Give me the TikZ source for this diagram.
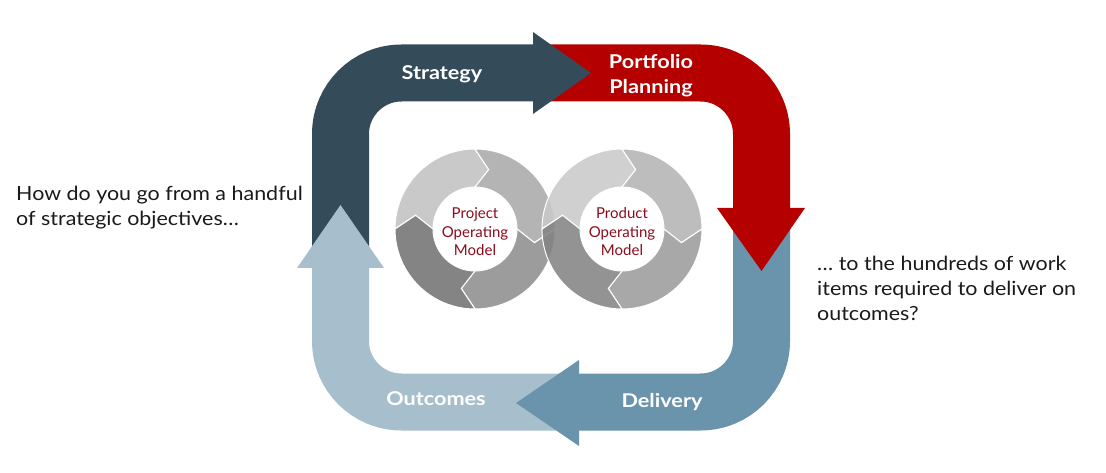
\documentclass[tikz,border=0pt]{standalone}
\usepackage{fontspec}
\setmainfont{Lato}
\newfontfamily\sidefont[FakeStretch=1.1]{Lato}
\newfontfamily\lblfont[FakeStretch=1.14]{Lato}
\definecolor{cStrat}{HTML}{344B5A}
\definecolor{cPort}{HTML}{B50000}
\definecolor{cDeliv}{HTML}{6A94AB}
\definecolor{cOutc}{HTML}{A7BFCD}
\definecolor{cSegA}{HTML}{C9C9C9}
\definecolor{cSegB}{HTML}{B4B4B4}
\definecolor{cSegC}{HTML}{9C9C9C}
\definecolor{cSegD}{HTML}{848484}
\definecolor{cModel}{HTML}{8A0C1C}
\definecolor{cText}{HTML}{1A1A1A}
\newcommand\cycseg[2]{%
  \fill[#2, draw=white, line width=1pt]
    (#1:80) arc[start angle=#1, end angle=#1-90, radius=80]
    -- (#1-103:61) -- (#1-90:42)
    arc[start angle=#1-90, end angle=#1, radius=42]
    -- (#1-13:61) -- cycle;}
\begin{document}
\begin{tikzpicture}[x=1pt,y=-1pt,
  band/.style={line width=57pt, rounded corners=61pt},
  lbl/.style={text=white, font=\lblfont\fontsize{19}{25}\selectfont\bfseries, inner sep=0pt, align=center},
  side/.style={text=cText, font=\sidefont\fontsize{19.5}{25}\selectfont, inner sep=0pt, align=left, anchor=north west},
  model/.style={text=cModel, font=\fontsize{15}{18.5}\selectfont, inner sep=0pt, align=center}]
\useasboundingbox (0,0) rectangle (1106,473);
% bands
\draw[band, draw=cOutc] (576,402) -- (340.5,402) -- (340.5,255);
\draw[band, draw=cStrat] (340.5,262) -- (340.5,73) -- (540,73);
\draw[band, draw=cPort] (535,73) -- (761.5,73) -- (761.5,215);
\draw[band, draw=cDeliv] (761.5,212) -- (761.5,402) -- (570,402);
% heads
\fill[cStrat] (533,32) -- (591,73) -- (533,114) -- cycle;
\fill[cPort] (717,208) -- (805,208) -- (761.5,271) -- cycle;
\fill[cDeliv] (579,360) -- (579,446) -- (516,403) -- cycle;
\fill[cOutc] (297,268) -- (384,268) -- (340.5,205) -- cycle;
% labels
\node[lbl] (strategy) at (442,74) {Strategy};
\node[lbl] (portfolio) at (651,76) {Portfolio\\Planning};
\node[lbl] (delivery) at (662,402) {Delivery};
\node[lbl] (outcomes) at (436,399) {Outcomes};
% cycles
\begin{scope}[shift={(475,229)}, yscale=-1]
  \cycseg{180}{cSegA}
  \cycseg{90}{cSegB}
  \cycseg{0}{cSegC}
  \cycseg{-90}{cSegD}
\end{scope}
\begin{scope}[shift={(622,229)}, yscale=-1, fill opacity=0.88]
  \cycseg{180}{cSegA}
  \cycseg{90}{cSegB}
  \cycseg{0}{cSegC}
  \cycseg{-90}{cSegD}
\end{scope}
\node[model] (project) at (475,232) {Project\\Operating\\Model};
\node[model] (product) at (622,232) {Product\\Operating\\Model};
% side texts
\node[side] (question) at (16,186) {How do you go from a handful\\of strategic objectives\dots};
\node[side] (answer) at (817,256) {\dots\ to the hundreds of work\\items required to deliver on\\outcomes?};
\end{tikzpicture}
\end{document}
